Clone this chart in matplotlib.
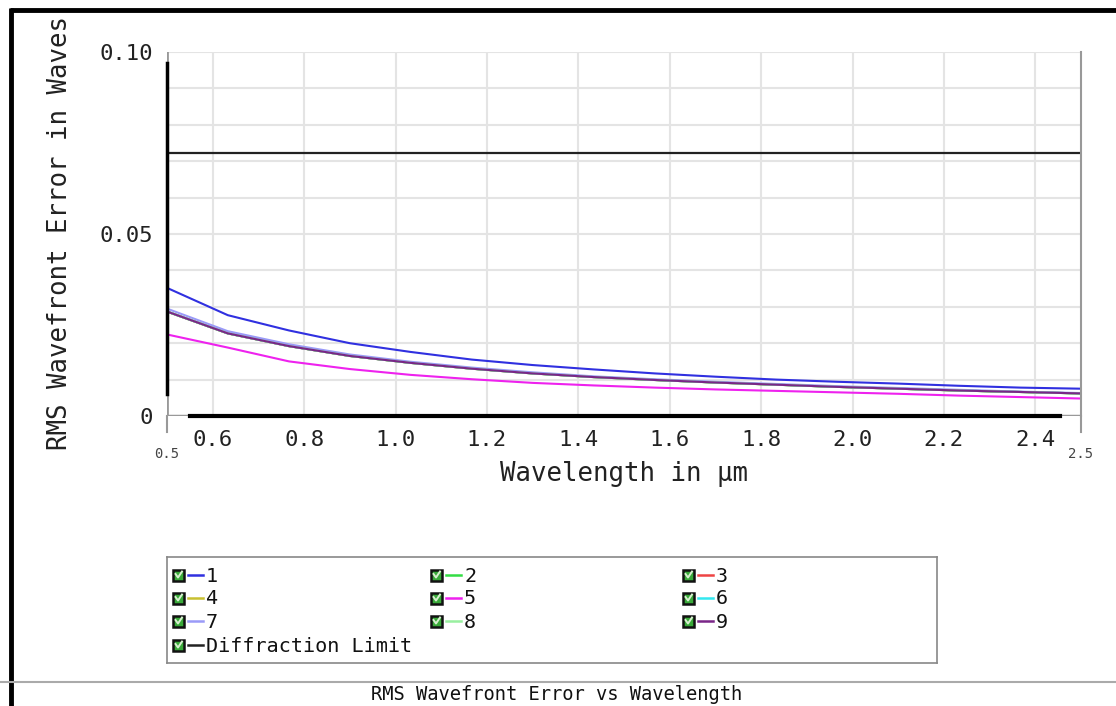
import matplotlib.pyplot as plt
from matplotlib.lines import Line2D
from matplotlib.patches import Rectangle

plt.rcParams['font.family'] = ['DejaVu Sans Mono', 'DejaVu Sans']

# wavelength samples (µm) and RMS wavefront error per field (waves)
wavelength = [0.5, 0.633, 0.767, 0.9, 1.033, 1.167, 1.3, 1.433,
              1.567, 1.7, 1.833, 1.967, 2.1, 2.233, 2.367, 2.5]
field_1 = [0.0352, 0.0277, 0.0235, 0.0200, 0.0176, 0.0155, 0.0140, 0.0128,
           0.0117, 0.0108, 0.0100, 0.0094, 0.0089, 0.0083, 0.0078, 0.0075]
field_5 = [0.0224, 0.0188, 0.0150, 0.0129, 0.0113, 0.0101, 0.0091, 0.0084,
           0.0078, 0.0073, 0.0069, 0.0065, 0.0061, 0.0056, 0.0052, 0.0048]
field_7 = [0.0295, 0.0233, 0.0197, 0.0169, 0.0149, 0.0133, 0.0120, 0.0109,
           0.0101, 0.0094, 0.0088, 0.0082, 0.0077, 0.0072, 0.0067, 0.0063]
field_9 = [0.0287, 0.0227, 0.0192, 0.0165, 0.0146, 0.0130, 0.0117, 0.0107,
           0.0099, 0.0092, 0.0086, 0.0080, 0.0075, 0.0070, 0.0066, 0.0062]
field_2 = field_9
field_3 = field_9
field_4 = field_9
field_6 = field_9
field_8 = field_9
diffraction_limit = 0.0723

labels = ['1', '2', '3', '4', '5', '6', '7', '8', '9']
series = [field_1, field_2, field_3, field_4, field_5, field_6, field_7, field_8, field_9]
colors = ['#3030e0', '#33dd44', '#ee4444', '#c8c030', '#ee22ee',
          '#33e8f0', '#9a9af8', '#99f0a0', '#7a2688']

fig = plt.figure(figsize=(11.16, 7.06), dpi=100)
W, H = 1116, 706

ax = fig.add_axes([167 / W, 1 - 416 / H, (1081 - 167) / W, (416 - 52) / H])
ax.set_xlim(0.5, 2.5)
ax.set_ylim(0, 0.10)

for y in [i / 100 for i in range(1, 11)]:
    ax.axhline(y, color='#e4e4e4', lw=1.5, zorder=0)
for x in [0.6, 0.8, 1.0, 1.2, 1.4, 1.6, 1.8, 2.0, 2.2, 2.4]:
    ax.axvline(x, color='#e4e4e4', lw=1.5, zorder=0)

for vals, col in zip(series, colors):
    ax.plot(wavelength, vals, color=col, lw=1.5, zorder=3)
ax.axhline(diffraction_limit, color='#222222', lw=1.6, zorder=3)

# axis lines: grey full length, black inner part
ax.axvline(0.5, color='#999999', lw=2, zorder=4)
ax.axhline(0, color='#999999', lw=2.5, zorder=4)
ax.spines['top'].set_visible(False)
ax.spines['right'].set_color('#999999')
ax.spines['right'].set_linewidth(1.5)
ax.spines['left'].set_color('black')
ax.spines['left'].set_linewidth(2.5)
ax.spines['left'].set_bounds(0.006, 0.097)
ax.spines['bottom'].set_color('black')
ax.spines['bottom'].set_linewidth(3)
ax.spines['bottom'].set_bounds(0.55, 2.455)
for sp in ax.spines.values():
    sp.set_zorder(5)

ax.set_yticks([0, 0.05, 0.10])
ax.set_yticklabels(['0', '0.05', '0.10'], fontsize=16, color='#222222')
ax.tick_params(axis='y', length=0, pad=10)
ax.set_xticks([0.6, 0.8, 1.0, 1.2, 1.4, 1.6, 1.8, 2.0, 2.2, 2.4])
ax.set_xticklabels(['0.6', '0.8', '1.0', '1.2', '1.4', '1.6', '1.8', '2.0', '2.2', '2.4'],
                   fontsize=16, color='#222222')
ax.tick_params(axis='x', length=0, pad=10)
ax.text(0.5, -0.0105, '0.5', fontsize=10, color='#444444', ha='center', va='center')
ax.text(2.5, -0.0105, '2.5', fontsize=10, color='#444444', ha='center', va='center')
ax.plot([0.5, 0.5], [0, -0.0045], color='#999999', lw=1.5, clip_on=False)
ax.plot([2.5, 2.5], [0, -0.0045], color='#999999', lw=1.5, clip_on=False)

ax.set_xlabel('Wavelength in µm', fontsize=18.5, color='#222222', labelpad=8)
fig.text(60 / W, 1 - 233 / H, 'RMS Wavefront Error in Waves', rotation=90,
         fontsize=18.5, color='#222222', ha='center', va='center')

# legend panel
lg = fig.add_axes([167 / W, 1 - 663 / H, (937 - 167) / W, (663 - 557) / H])
lg.set_xlim(0, 770)
lg.set_ylim(106, 0)
lg.set_xticks([])
lg.set_yticks([])
for sp in lg.spines.values():
    sp.set_color('#888888')
    sp.set_linewidth(1.2)

entries = [(l, c) for l, c in zip(labels, colors)] + [('Diffraction Limit', '#222222')]
col_x = [6, 264, 516]
row_y = [18, 41, 64, 88]
for i, (lab, col) in enumerate(entries):
    if lab == 'Diffraction Limit':
        cx, cy = col_x[0], row_y[3]
    else:
        cx, cy = col_x[i % 3], row_y[i // 3]
    lg.add_patch(Rectangle((cx, cy - 5.5), 11, 11, facecolor='#3aaa3a',
                           edgecolor='#111111', lw=1.8))
    lg.plot([cx + 2.5, cx + 5, cx + 9], [cy - 1, cy + 2.5, cy - 3.5],
            color='#d8f0d0', lw=1.4)
    lg.plot([cx + 15, cx + 30], [cy, cy], color=col, lw=1.8)
    lg.text(cx + 33, cy + 1, lab, fontsize=14.5, color='#111111', va='center', ha='left')

# window frame and caption
fig.add_artist(Line2D([10 / W, 1], [1 - 10 / H, 1 - 10 / H], color='black', lw=3.5,
                      solid_capstyle='butt'))
fig.add_artist(Line2D([11 / W, 11 / W], [0, 1 - 8 / H], color='black', lw=3.5,
                      solid_capstyle='butt'))
fig.add_artist(Line2D([0, 1], [1 - 682 / H, 1 - 682 / H], color='#aaaaaa', lw=1.5))
fig.text(557 / W, 1 - 694 / H, 'RMS Wavefront Error vs Wavelength', fontsize=13.5,
         color='#111111', ha='center', va='center')

fig.savefig('out.png', dpi=100)
